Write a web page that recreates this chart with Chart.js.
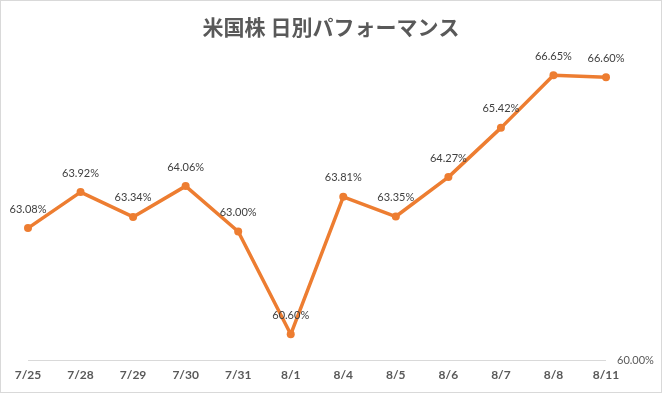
<!DOCTYPE html>
<html><head><meta charset="utf-8">
<script src="https://cdn.jsdelivr.net/npm/chart.js@4/dist/chart.umd.min.js"></script>
<style>html,body{margin:0;padding:0;background:#fff}#wrap{width:662px;height:393px;position:relative}</style>
</head><body><div id="wrap"><canvas id="c" width="662" height="393"></canvas></div>
<script>
const categories = ["7/25","7/28","7/29","7/30","7/31","8/1","8/4","8/5","8/6","8/7","8/8","8/11"];
const values = [63.08, 63.92, 63.34, 64.06, 63.00, 60.60, 63.81, 63.35, 64.27, 65.42, 66.65, 66.60];
const yTickLabels = [60];
const titleText = "米国株 日別パフォーマンス";

const labelPlugin = {
  id: 'pointLabels',
  afterDatasetsDraw(chart) {
    const ctx = chart.ctx;
    const meta = chart.getDatasetMeta(0);
    ctx.save();
    ctx.font = '11px Lato, "Liberation Sans", sans-serif';
    ctx.fillStyle = '#404040';
    ctx.textAlign = 'center';
    ctx.textBaseline = 'middle';
    meta.data.forEach((pt, i) => {
      ctx.fillText(values[i].toFixed(2) + '%', pt.x, pt.y - 19);
    });
    ctx.restore();
  }
};
const borderPlugin = {
  id: 'outerBorder',
  afterDraw(chart) {
    const ctx = chart.ctx;
    ctx.save();
    ctx.strokeStyle = '#d9d9d9';
    ctx.lineWidth = 1;
    ctx.strokeRect(0.5, 0.5, chart.width - 1, chart.height - 1);
    ctx.restore();
  }
};

new Chart(document.getElementById('c'), {
  type: 'line',
  data: {
    labels: categories,
    datasets: [{
      data: values,
      borderColor: '#ED7D31',
      backgroundColor: '#ED7D31',
      borderWidth: 3.5,
      pointRadius: 4,
      pointBorderWidth: 0,
      pointBackgroundColor: '#ED7D31',
      tension: 0,
      borderCapStyle: 'round',
      borderJoinStyle: 'round'
    }]
  },
  options: {
    responsive: false,
    animation: false,
    layout: { padding: { left: 0, right: 0, top: 0, bottom: 0 } },
    plugins: {
      legend: { display: false },
      tooltip: { enabled: false },
      title: {
        display: true,
        text: titleText,
        color: '#595959',
        font: { size: 21, family: '"Noto Sans CJK JP", sans-serif', weight: 'bold', lineHeight: 1.2 },
        padding: { top: 14, bottom: 21 }
      }
    },
    scales: {
      x: {
        offset: false,
        grid: { display: false, drawTicks: false },
        border: { display: false },
        ticks: {
          color: '#595959',
          font: { size: 12, weight: 'bold', family: 'Lato, "Liberation Sans", sans-serif' },
          padding: 8,
          autoSkip: false,
          maxRotation: 0
        },
        afterFit(s) { s.height = 33; }
      },
      yLeft: {
        position: 'left',
        display: true,
        grid: { display: false, drawTicks: false },
        border: { display: false },
        ticks: { display: false },
        afterFit(s) { s.width = 28; }
      },
      y: {
        position: 'right',
        min: 60,
        max: 67,
        afterBuildTicks(s) { s.ticks = yTickLabels.map(v => ({ value: v })); },
        grid: { color: '#d9d9d9', lineWidth: 1, drawTicks: false },
        border: { display: false },
        ticks: {
          color: '#595959',
          font: { size: 11, family: 'Lato, "Liberation Sans", sans-serif' },
          padding: 11,
          callback: v => Number(v).toFixed(2) + '%'
        },
        afterFit(s) { s.width = 56; }
      }
    }
  },
  plugins: [labelPlugin, borderPlugin]
});
</script>
</body></html>
